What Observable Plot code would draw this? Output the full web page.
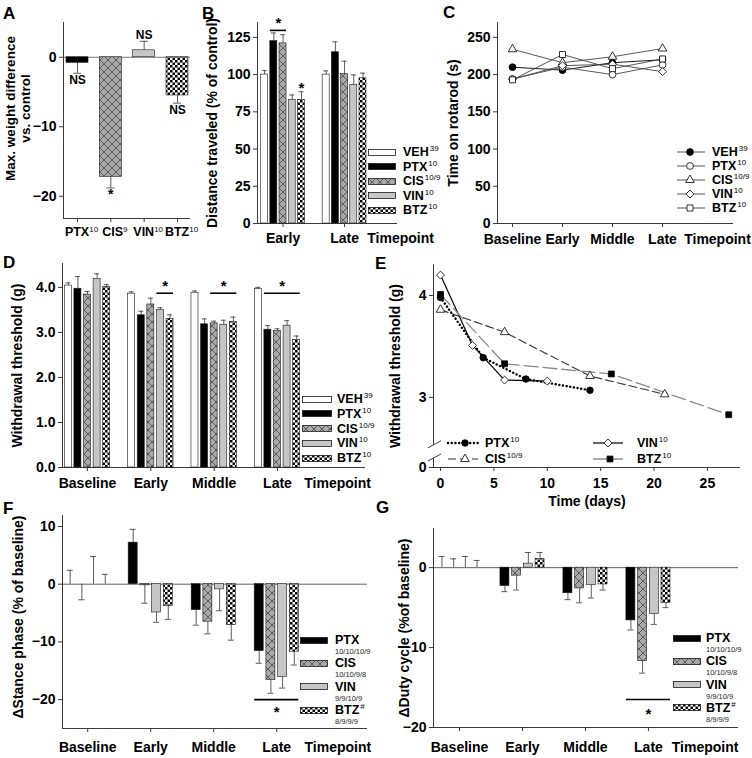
<!DOCTYPE html>
<html><head><meta charset="utf-8">
<script src="https://cdn.jsdelivr.net/npm/d3@7"></script>
<script src="https://cdn.jsdelivr.net/npm/@observablehq/plot@0.6"></script>
<style>
html,body{margin:0;padding:0;background:#fff;}
#fig{position:relative;width:752px;height:758px;overflow:hidden;background:#fff;font-family:"Liberation Sans",Arial,Helvetica,sans-serif;font-weight:bold;color:#000;}
.lab{position:absolute;white-space:nowrap;line-height:1;transform:translateY(-50%);}
.letter{font-size:17px;}
.lg{font-size:12.5px;}
.lg sup{font-size:8px;font-weight:normal;vertical-align:baseline;position:relative;top:-5px;margin-left:1px;}
.sub{font-size:7.5px;font-weight:normal;color:#222;}
</style></head>
<body>
<svg width="0" height="0" style="position:absolute">
<defs>
<pattern id="pCIS" width="8" height="8" patternUnits="userSpaceOnUse">
<rect width="8" height="8" fill="#a9a9a9"/>
<path d="M0,0L8,8M8,0L0,8" stroke="#3a3a3a" stroke-width="0.7"/>
</pattern>
<pattern id="pBTZ" width="5" height="5" patternUnits="userSpaceOnUse">
<rect width="5" height="5" fill="#ffffff"/>
<rect width="2.5" height="2.5" fill="#000"/>
<rect x="2.5" y="2.5" width="2.5" height="2.5" fill="#000"/>
</pattern>
</defs>
</svg>
<div id="fig"></div>
<script>
// ---------------- DATA ----------------
// Panel A
const A_drugs = ["PTX", "CIS", "VIN", "BTZ"];
const A_n = ["10", "9", "10", "10"];
const A_mean = [-0.8, -17.2, 1.0, -5.5];
const A_errEnd = [-2.3, -18.8, 2.3, -6.6];
const A_sig = ["NS", "*", "NS", "NS"];

// Panel B (rows = series, columns = timepoints)
const B_series = ["VEH", "PTX", "CIS", "VIN", "BTZ"];
const B_n = ["39", "10", "10/9", "10", "10"];
const B_timepoints = ["Early", "Late"];
const B_mean = [[100, 100], [122.5, 115], [121, 100.5], [83, 93], [83, 97.5]];
const B_errEnd = [[102.7, 102.5], [128, 122], [126.8, 109], [86.3, 99.8], [88.5, 101]];
const B_sigLines = [{t: 0, from: 1, to: 2, y: 129.7}];
const B_stars = [{t: 0, s: 1.5, y: 136.5}, {t: 0, s: 4, y: 92.6}];

// Panel C
const C_series = ["VEH", "PTX", "CIS", "VIN", "BTZ"];
const C_n = ["39", "10", "10/9", "10", "10"];
const C_timepoints = ["Baseline", "Early", "Middle", "Late"];
const C_rotarod = [[210, 206, 216, 220], [194, 210, 200, 213], [234, 216, 224, 235], [194, 212, 214, 204], [193, 227, 208, 221]];

// Panel D
const D_series = ["VEH", "PTX", "CIS", "VIN", "BTZ"];
const D_n = ["39", "10", "10/9", "10", "10"];
const D_timepoints = ["Baseline", "Early", "Middle", "Late"];
const D_mean = [[4.04, 3.86, 3.88, 3.96], [3.97, 3.38, 3.18, 3.06], [3.84, 3.62, 3.2, 3.03], [4.19, 3.5, 3.17, 3.15], [4.01, 3.3, 3.23, 2.83]];
const D_errEnd = [[4.1, 3.9, 3.92, 4.0], [4.24, 3.47, 3.3, 3.15], [3.91, 3.76, 3.25, 3.08], [4.3, 3.55, 3.27, 3.26], [4.06, 3.39, 3.34, 2.92]];
const D_sigLines = [{t: 1, from: 3, to: 4, y: 3.87}, {t: 2, from: 2, to: 4, y: 3.87}, {t: 3, from: 1, to: 4, y: 3.87}];
const D_stars = [{t: 1, s: 3.5, y: 4.09}, {t: 2, s: 3, y: 4.09}, {t: 3, s: 2.5, y: 4.09}];

// Panel E
const E_series = ["PTX", "CIS", "VIN", "BTZ"];
const E_n = ["10", "10/9", "10", "10"];
const E_days = [[0, 4, 8, 14], [0, 6, 14, 21], [0, 3, 6, 10], [0, 6, 16, 27]];
const E_vals = [[3.98, 3.39, 3.18, 3.07], [3.86, 3.64, 3.21, 3.03], [4.2, 3.51, 3.17, 3.16], [4.01, 3.33, 3.23, 2.83]];
const E_xTicks = [0, 5, 10, 15, 20, 25];
const E_yTicks = [0, 3, 4];
const E_breaks = [1.82, 2.53];

// Panel F
const F_series = ["PTX", "CIS", "VIN", "BTZ"];
const F_mark = ["", "", "", "#"];
const F_n = ["10/10/10/9", "10/10/9/8", "9/9/10/9", "8/9/9/9"];
const F_timepoints = ["Baseline", "Early", "Middle", "Late"];
const F_mean = [[0, 7.2, -4.5, -11.6], [0, -0.2, -6.5, -16.6], [0, -4.9, -0.9, -16.1], [0, -3.8, -7.1, -11.7]];
const F_errEnd = [[2.4, 9.5, -7.1, -13.7], [-2.7, -3.3, -8.6, -18.9], [4.8, -6.6, -4.6, -18.0], [1.7, -6.1, -9.7, -14.0]];
const F_sigLines = [{t: 3, from: 0, to: 3, y: -20}];
const F_stars = [{t: 3, s: 1.5, y: -21.6}];

// Panel G
const G_series = ["PTX", "CIS", "VIN", "BTZ"];
const G_mark = ["", "", "", "#"];
const G_n = ["10/10/10/9", "10/10/9/8", "9/9/10/9", "8/9/9/9"];
const G_timepoints = ["Baseline", "Early", "Middle", "Late"];
const G_mean = [[0, -2.3, -3.2, -6.6], [0, -1.0, -2.6, -11.7], [0, 0.5, -2.2, -5.8], [0, 1.1, -2.1, -4.4]];
const G_errEnd = [[1.4, -3.0, -4.0, -7.8], [1.1, -2.8, -4.4, -13.2], [1.4, 1.9, -3.8, -7.1], [0.9, 1.9, -2.8, -5.0]];
const G_sigLines = [{t: 3, from: 0, to: 3, y: -16.5}];
const G_stars = [{t: 3, s: 1.5, y: -17.9}];

// ---------------- STYLE ----------------
const FONT = '"Liberation Sans", Arial, Helvetica, sans-serif';
const AX = "#3a3a3a";
const FILL = {VEH: "#ffffff", PTX: "#000000", CIS: "url(#pCIS)", VIN: "#c6c6c6", BTZ: "url(#pBTZ)"};
const SYM = {circle: d3.symbolCircle, triangle: d3.symbolTriangle, diamond2: d3.symbolDiamond2 || d3.symbolDiamond, square: d3.symbolSquare};
const C_style = {
  VEH: {sym: "circle", fill: "#000", r: 3.4},
  PTX: {sym: "circle", fill: "#fff", r: 3.4},
  CIS: {sym: "triangle", fill: "#fff", r: 3.2},
  VIN: {sym: "diamond2", fill: "#fff", r: 3.6},
  BTZ: {sym: "square", fill: "#fff", r: 3.4}
};
const E_style = {
  PTX: {stroke: "#000", width: 2.4, dash: "0.1,3.6", cap: "round", sym: "circle", fill: "#000", r: 3.3},
  CIS: {stroke: "#333", width: 1.1, dash: "8,4", sym: "triangle", fill: "#fff", r: 3.2},
  VIN: {stroke: "#000", width: 1.2, dash: null, sym: "diamond2", fill: "#fff", r: 3.6},
  BTZ: {stroke: "#8a8a8a", width: 1.3, dash: "14,5", sym: "square", fill: "#000", r: 3.3}
};

const fig = document.getElementById("fig");
function put(svg, left, top) {
  svg.style.position = "absolute";
  svg.style.left = left + "px";
  svg.style.top = top + "px";
  svg.style.background = "transparent";
  svg.style.overflow = "visible";
  fig.appendChild(svg);
  return svg;
}
function lab(html, x, y, cls) {
  const d = document.createElement("div");
  d.className = "lab " + cls;
  d.innerHTML = html;
  d.style.left = x + "px";
  d.style.top = y + "px";
  fig.appendChild(d);
}
function swatch(fill, x, y, w = 28, h = 7) {
  const s = d3.create("svg").attr("width", w).attr("height", h)
    .style("position", "absolute").style("left", x + "px").style("top", (y - h / 2) + "px");
  s.append("rect").attr("x", 0.5).attr("y", 0.5).attr("width", w - 1).attr("height", h - 1)
    .attr("fill", fill).attr("stroke", "#1a1a1a").attr("stroke-width", 0.8);
  fig.appendChild(s.node());
}
function lineLegend(x, y, w, markerX, st) {
  const s = d3.create("svg").attr("width", w).attr("height", 12)
    .style("position", "absolute").style("left", x + "px").style("top", (y - 6) + "px").style("overflow", "visible");
  s.append("line").attr("x1", 0).attr("x2", w).attr("y1", 6).attr("y2", 6)
    .attr("stroke", st.stroke).attr("stroke-width", st.width)
    .attr("stroke-dasharray", st.dash || null).attr("stroke-linecap", st.cap || null);
  s.append("path").attr("d", d3.symbol(SYM[st.sym], Math.PI * st.r * st.r)())
    .attr("transform", `translate(${markerX},6)`).attr("fill", st.fill).attr("stroke", "#000").attr("stroke-width", 0.8);
  fig.appendChild(s.node());
}
const baseStyle = {fontFamily: FONT, fontSize: "14px", fontWeight: "bold", background: "transparent", overflow: "visible", color: "#000"};

function yLabel(text, dx, dy = 0, lineHeight = 1, fontSize = 14) {
  return Plot.text([text], {text: d => d, frameAnchor: "left", rotate: -90, textAnchor: "middle", lineAnchor: "middle", dx, dy, fontSize, lineHeight});
}

// ---------- generic grouped bar panel ----------
function barPanel(c) {
  const ppx = (c.W - c.m.l - c.m.r) / (c.xDom[1] - c.xDom[0]);
  const n = c.series.length;
  const pos = (t, s) => t + (s - (n - 1) / 2) * c.pitchPx / ppx;
  const half = c.barPx / 2 / ppx, cap = (c.capPx || 5) / 2 / ppx;
  const marks = [
    Plot.ruleX([c.xDom[0]], {stroke: AX}),
    Plot.ruleY([c.yDom[0]], {stroke: AX})
  ];
  if (c.zero) marks.push(Plot.ruleY([0], {stroke: AX, strokeWidth: 0.8}));
  c.series.forEach((s, si) => {
    const rows = c.groups.map((g, gi) => ({x: pos(gi, si), v: c.mean[si][gi], e: c.errEnd[si][gi]}));
    marks.push(
      Plot.ruleX(rows, {x: "x", y1: "v", y2: "e", stroke: "#333", strokeWidth: 0.8}),
      Plot.ruleY(rows, {y: "e", x1: d => d.x - cap, x2: d => d.x + cap, stroke: "#333", strokeWidth: 0.8}),
      Plot.rectY(rows.filter(d => d.v !== 0), {x1: d => d.x - half, x2: d => d.x + half, y1: 0, y2: "v", fill: FILL[s], stroke: "#1a1a1a", strokeWidth: 0.6})
    );
  });
  marks.push(
    Plot.ruleY(c.sigLines || [], {y: "y", x1: d => pos(d.t, d.from) - half, x2: d => pos(d.t, d.to) + half, stroke: "#000", strokeWidth: 1.6}),
    Plot.text(c.stars || [], {x: d => pos(d.t, d.s), y: "y", text: () => "*", fontSize: 15, dy: 3}),
    Plot.axisY({ticks: c.yTicks, tickSize: 4, tickPadding: 3, label: null, fontSize: 14, stroke: AX}),
    Plot.axisX({ticks: d3.range(c.groups.length), tickFormat: i => c.groups[i], tickSize: 4, tickPadding: c.tickPad, label: null, fontSize: 14, stroke: AX}),
    Plot.text(["Timepoint"], {text: d => d, x: c.timeX, frameAnchor: "bottom", lineAnchor: "top", dy: 4 + c.tickPad, fontSize: 14}),
    yLabel(c.ylabel, c.ylabelDx, c.ylabelDy || 0)
  );
  return Plot.plot({
    width: c.W, height: c.H,
    marginLeft: c.m.l, marginRight: c.m.r, marginTop: c.m.t, marginBottom: c.m.b,
    x: {domain: c.xDom}, y: {domain: c.yDom},
    style: baseStyle,
    marks
  });
}

// ---------------- Panel A ----------------
{
  const W = 200, H = 245, m = {l: 63, r: 10, t: 22, b: 27}, xDom = [-0.42, 3.39], yDom = [-23.2, 5];
  const ppx = (W - m.l - m.r) / (xDom[1] - xDom[0]);
  const half = 11 / ppx, cap = 4 / ppx;
  const rows = A_drugs.map((d, i) => ({d, x: i, v: A_mean[i], e: A_errEnd[i], lab: A_sig[i]}));
  const marks = [
    Plot.ruleY([0], {stroke: "#777"}),
    Plot.ruleX([xDom[0]], {stroke: AX}),
    Plot.ruleY([yDom[0]], {stroke: AX}),
    Plot.ruleX(rows, {x: "x", y1: "v", y2: "e", stroke: "#333", strokeWidth: 0.8}),
    Plot.ruleY(rows, {y: "e", x1: d => d.x - cap, x2: d => d.x + cap, stroke: "#333", strokeWidth: 0.8}),
    ...rows.map(r => Plot.rectY([r], {x1: d => d.x - half, x2: d => d.x + half, y1: 0, y2: "v", fill: FILL[r.d], stroke: "#1a1a1a", strokeWidth: 0.6})),
    Plot.text(rows.filter(r => r.e < 0 && r.lab !== "*"), {x: "x", y: "e", text: "lab", lineAnchor: "top", dy: 2, fontSize: 12}),
    Plot.text(rows.filter(r => r.e < 0 && r.lab === "*"), {x: "x", y: "e", text: "lab", lineAnchor: "top", dy: 1, fontSize: 14}),
    Plot.text(rows.filter(r => r.e > 0), {x: "x", y: "e", text: "lab", lineAnchor: "bottom", dy: -2, fontSize: 12}),
    Plot.axisY({ticks: [-20, -10, 0], tickSize: 4, tickPadding: 3, label: null, fontSize: 14, stroke: AX}),
    Plot.axisX({ticks: d3.range(A_drugs.length), tickFormat: i => A_drugs[i], tickSize: 4, tickPadding: 5, label: null, fontSize: 12.5, stroke: AX}),
    yLabel("Max. weight difference\nvs. control", -46, -12, 1.15, 13.5)
  ];
  const svg = Plot.plot({width: W, height: H, marginLeft: m.l, marginRight: m.r, marginTop: m.t, marginBottom: m.b,
    x: {domain: xDom}, y: {domain: yDom}, style: baseStyle, marks});
  d3.select(svg).selectAll('[aria-label="x-axis tick label"] text').each(function (_, i) {
    const t = d3.select(this);
    t.text(A_drugs[i]);
    t.append("tspan").attr("font-size", 8).attr("font-weight", "normal").attr("dy", "-0.6em").text(A_n[i]);
    t.attr("dx", 4);
  });
  put(svg, 0, 0);
}

// ---------------- Panel B ----------------
put(barPanel({
  groups: B_timepoints, series: B_series, mean: B_mean, errEnd: B_errEnd,
  W: 245, H: 250, m: {l: 62, r: 43, t: 22, b: 27}, xDom: [-0.415, 1.86], yDom: [0, 135],
  yTicks: [0, 25, 50, 75, 100, 125], pitchPx: 9.2, barPx: 7, capPx: 5, tickPad: 6, timeX: 1.91,
  ylabel: "Distance traveled (% of control)", ylabelDx: -45,
  sigLines: B_sigLines, stars: B_stars
}), 195, 0);
B_series.forEach((s, i) => {
  swatch(FILL[s], 368, 152 + i * 14.6);
  lab(`${s}<sup>${B_n[i]}</sup>`, 403, 152 + i * 14.6, "lg");
});

// ---------------- Panel C ----------------
{
  const W = 312, H = 250, m = {l: 57, r: 19, t: 22, b: 27}, xDom = [-0.3, 4.42], yDom = [0, 270];
  const marks = [Plot.ruleX([xDom[0]], {stroke: AX}), Plot.ruleY([yDom[0]], {stroke: AX})];
  const all = C_series.map((s, si) => C_timepoints.map((t, ti) => ({x: ti, y: C_rotarod[si][ti]})));
  C_series.forEach((s, si) => marks.push(Plot.line(all[si], {x: "x", y: "y", stroke: s === "VEH" ? "#000" : "#444", strokeWidth: 0.9})));
  C_series.forEach((s, si) => {
    const st = C_style[s];
    marks.push(Plot.dot(all[si], {x: "x", y: "y", symbol: st.sym, r: st.r, fill: st.fill, stroke: "#000", strokeWidth: 0.8}));
  });
  marks.push(
    Plot.axisY({ticks: [0, 50, 100, 150, 200, 250], tickSize: 4, tickPadding: 3, label: null, fontSize: 14, stroke: AX}),
    Plot.axisX({ticks: d3.range(C_timepoints.length), tickFormat: i => C_timepoints[i], tickSize: 4, tickPadding: 7, label: null, fontSize: 14, stroke: AX}),
    Plot.text(["Timepoint"], {text: d => d, x: 4.1, frameAnchor: "bottom", lineAnchor: "top", dy: 11, fontSize: 14}),
    yLabel("Time on rotarod (s)", -44)
  );
  put(Plot.plot({width: W, height: H, marginLeft: m.l, marginRight: m.r, marginTop: m.t, marginBottom: m.b,
    x: {domain: xDom}, y: {domain: yDom}, style: baseStyle, marks}), 440, 0);
  C_series.forEach((s, i) => {
    const st = C_style[s];
    lineLegend(677, 152 + i * 14, 28, 13, {stroke: "#444", width: 0.9, sym: st.sym, fill: st.fill, r: st.r});
    lab(`${s}<sup>${C_n[i]}</sup>`, 712, 152 + i * 14, "lg");
  });
}

// ---------------- Panel D ----------------
put(barPanel({
  groups: D_timepoints, series: D_series, mean: D_mean, errEnd: D_errEnd,
  W: 375, H: 245, m: {l: 62, r: 10, t: 13, b: 28}, xDom: [-0.395, 4.39], yDom: [0, 4.53],
  yTicks: [0, 1, 2, 3, 4], pitchPx: 9.6, barPx: 7, capPx: 5, tickPad: 7, timeX: 3.95,
  ylabel: "Withdrawal threshold (g)", ylabelDx: -45,
  sigLines: D_sigLines, stars: D_stars
}), 0, 250);
D_series.forEach((s, i) => {
  swatch(FILL[s], 302, 399 + i * 14.75, 30, 7);
  lab(`${s}<sup>${D_n[i]}</sup>`, 337, 399 + i * 14.75, "lg");
});

// ---------------- Panel E ----------------
{
  const W = 382, H = 258, m = {l: 63, r: 12, t: 14, b: 41}, xDom = [-0.656, 28.1];
  const yDom = [0, 2.43, 4.3], yRange = [217, 205, 14.4];
  const marks = [
    Plot.ruleX([xDom[0]], {y1: 0, y2: E_breaks[0], stroke: AX}),
    Plot.ruleX([xDom[0]], {y1: E_breaks[1], y2: 4.3, stroke: AX}),
    Plot.ruleY([0], {stroke: AX}),
    (index, scales) => {
      const g = d3.create("svg:g").attr("stroke", AX).attr("stroke-width", 1);
      for (const v of E_breaks) {
        const x = scales.x(xDom[0]), y = scales.y(v);
        g.append("line").attr("x1", x - 5).attr("y1", y + 3).attr("x2", x + 8).attr("y2", y - 4);
      }
      return g.node();
    }
  ];
  const all = E_series.map((s, si) => E_days[si].map((d, i) => ({x: d, y: E_vals[si][i]})));
  E_series.forEach((s, si) => {
    const st = E_style[s];
    marks.push(Plot.line(all[si], {x: "x", y: "y", stroke: st.stroke, strokeWidth: st.width, strokeDasharray: st.dash || undefined, strokeLinecap: st.cap || undefined}));
  });
  E_series.forEach((s, si) => {
    const st = E_style[s];
    marks.push(Plot.dot(all[si], {x: "x", y: "y", symbol: st.sym, r: st.r, fill: st.fill, stroke: "#000", strokeWidth: 0.8}));
  });
  marks.push(
    Plot.axisY({ticks: E_yTicks, tickFormat: d => String(d), tickSize: 4, tickPadding: 3, label: null, fontSize: 14, stroke: AX}),
    Plot.axisX({ticks: E_xTicks, tickFormat: d => String(d), tickSize: 4, tickPadding: 7, label: null, fontSize: 14, stroke: AX}),
    Plot.text(["Time (days)"], {text: d => d, frameAnchor: "bottom", lineAnchor: "top", dy: 29, fontSize: 14}),
    yLabel("Withdrawal threshold (g)", -38)
  );
  put(Plot.plot({width: W, height: H, marginLeft: m.l, marginRight: m.r, marginTop: m.t, marginBottom: m.b,
    x: {domain: xDom}, y: {type: "linear", domain: yDom, range: yRange}, style: baseStyle, marks}), 370, 250);
  const legPos = {PTX: [448, 443, 485], VIN: [593, 443, 637], CIS: [448, 459, 485], BTZ: [593, 459, 637]};
  E_series.forEach((s, i) => {
    const [x, y, lx] = legPos[s];
    lineLegend(x, y, 30, s === "VIN" ? 15 : 17, E_style[s]);
    lab(`${s}<sup>${E_n[i]}</sup>`, lx, y, "lg");
  });
}

// ---------------- Panel F ----------------
put(barPanel({
  groups: F_timepoints, series: F_series, mean: F_mean, errEnd: F_errEnd,
  W: 375, H: 261, m: {l: 62, r: 8, t: 18, b: 30}, xDom: [-0.4, 4.44], yDom: [-25, 11.9],
  yTicks: [-20, -10, 0, 10], pitchPx: 11.7, barPx: 9, capPx: 6, tickPad: 10, timeX: 3.97, zero: true,
  ylabel: "\u0394Stance phase (% of baseline)", ylabelDx: -44, ylabelDy: -5,
  sigLines: F_sigLines, stars: F_stars
}), 0, 497);
F_series.forEach((s, i) => {
  const y = 640 + i * 23.4;
  swatch(FILL[s], 300, y, 28, 7);
  lab(`${s}<sup>${F_mark[i]}</sup>`, 335, y, "lg");
  lab(F_n[i], 335, y + 12, "sub");
});

// ---------------- Panel G ----------------
put(barPanel({
  groups: G_timepoints, series: G_series, mean: G_mean, errEnd: G_errEnd,
  W: 377, H: 261, m: {l: 58, r: 14, t: 31, b: 31}, xDom: [-0.413, 4.43], yDom: [-20, 4.9],
  yTicks: [-20, -10, 0], pitchPx: 11.7, barPx: 9, capPx: 6, tickPad: 11, timeX: 3.9, zero: true,
  ylabel: "\u0394Duty cycle (%of baseline)", ylabelDx: -29,
  sigLines: G_sigLines, stars: G_stars
}), 375, 497);
G_series.forEach((s, i) => {
  const y = 638 + i * 23.3;
  swatch(FILL[s], 673, y, 28, 7);
  lab(`${s}<sup>${G_mark[i]}</sup>`, 706, y, "lg");
  lab(G_n[i], 706, y + 12, "sub");
});

// ---------------- Panel letters ----------------
[["A", 3, 13], ["B", 202, 13], ["C", 443, 12], ["D", 3, 262], ["E", 375, 263], ["F", 3, 508], ["G", 376, 507]]
  .forEach(([t, x, y]) => lab(t, x, y, "letter"));
</script>
</body></html>
